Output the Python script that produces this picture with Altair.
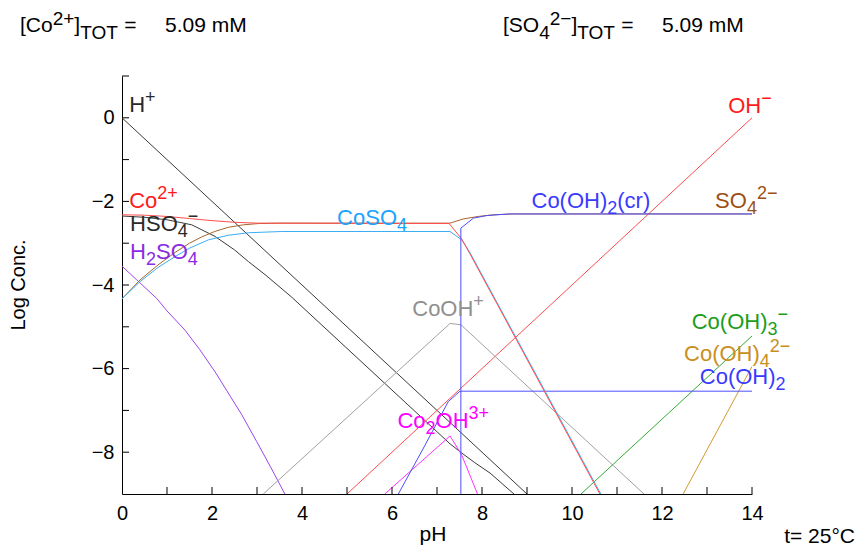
import altair as alt
import pandas as pd

FONT = "Liberation Sans"

# ---------------- data ----------------
h_ph = [0, 9]
h_log = [0, -9]

oh_ph = [5, 14]
oh_log = [-9, 0]

co_ph = [0, 0.5, 1.0, 1.5, 2.0, 2.5, 3.0, 7.27, 7.55, 7.73, 10.62]
co_log = [-2.32, -2.33, -2.36, -2.41, -2.46, -2.50, -2.52, -2.53, -2.90, -3.25, -9.0]

hso4_ph = [0, 0.5, 1.0, 1.55, 2.07, 2.5, 2.81, 3.2, 3.77, 7.29, 7.55, 7.84, 8.18, 8.71]
hso4_log = [-2.35, -2.38, -2.44, -2.56, -2.84, -3.16, -3.44, -3.77, -4.29, -7.80, -8.02, -8.25, -8.50, -9.0]

h2so4_ph = [0, 0.33, 0.77, 1.0, 1.4, 1.73, 2.07, 2.33, 2.66, 2.99, 3.3, 3.62]
h2so4_log = [-3.55, -3.88, -4.32, -4.62, -5.08, -5.55, -6.08, -6.53, -7.10, -7.74, -8.35, -9.0]

so4_ph = [0, 0.4, 0.8, 1.18, 1.5, 1.77, 2.06, 2.36, 2.7, 3.03, 3.5, 7.29, 7.58, 7.92, 8.25, 8.7, 14]
so4_log = [-4.33, -3.88, -3.52, -3.22, -3.0, -2.85, -2.72, -2.62, -2.56, -2.53, -2.52, -2.52, -2.42, -2.36, -2.32, -2.30, -2.30]

coso4_ph = [0, 0.4, 0.8, 1.18, 1.5, 1.92, 2.36, 2.81, 3.55, 7.29, 7.55, 7.73, 10.64]
coso4_log = [-4.33, -3.92, -3.58, -3.32, -3.12, -2.92, -2.81, -2.75, -2.72, -2.72, -2.92, -3.22, -9.0]

cooh2cr_ph = [7.53, 7.53, 7.81, 8.1, 8.6, 14]
cooh2cr_log = [-9.0, -2.64, -2.40, -2.34, -2.30, -2.30]

cooh2_ph = [6.14, 6.7, 7.25, 7.51, 14]
cooh2_log = [-9.0, -7.9, -6.79, -6.54, -6.54]

cooh_ph = [3.14, 7.29, 7.53, 11.6]
cooh_log = [-9.0, -4.92, -4.95, -9.0]

co2oh_ph = [5.84, 7.29, 7.55, 7.9]
co2oh_log = [-9.0, -7.61, -8.07, -9.0]

cooh3_ph = [10.2, 14]
cooh3_log = [-9.0, -5.22]

cooh4_ph = [12.47, 14]
cooh4_log = [-9.0, -5.95]

x_label_values = [0, 2, 4, 6, 8, 10, 12, 14]
y_label_values = [0, -2, -4, -6, -8]
x_minor = list(range(1, 15))
y_minor = list(range(-8, 2))

# ---------------- styling ----------------
C_RED = "#ff1a1a"
C_BLACK = "#2a2a2a"
C_PURPLE = "#8a2be2"
C_BROWN = "#9c4f12"
C_CYAN = "#1aa3ff"
C_BLUE = "#3a3aff"
C_GRAY = "#8f8f8f"
C_MAG = "#ff00ff"
C_GREEN = "#1a9e1a"
C_GOLD = "#c98f1c"

# line colours (thin lines look slightly lighter than the label text)
L_RED = "#ff4d4d"
L_BLACK = "#3a3a3a"
L_PURPLE = "#9a45f0"
L_BROWN = "#a8642c"
L_CYAN = "#3aaef5"
L_BLUE = "#4d4dff"
L_GRAY = "#a0a0a0"
L_MAG = "#ff33ff"
L_GREEN = "#33aa33"
L_GOLD = "#d29a30"

series = [
    ("H+", h_ph, h_log, L_BLACK),
    ("HSO4-", hso4_ph, hso4_log, L_BLACK),
    ("H2SO4", h2so4_ph, h2so4_log, L_PURPLE),
    ("OH-", oh_ph, oh_log, L_RED),
    ("CoOH+", cooh_ph, cooh_log, L_GRAY),
    ("Co2OH3+", co2oh_ph, co2oh_log, L_MAG),
    ("Co(OH)3-", cooh3_ph, cooh3_log, L_GREEN),
    ("Co(OH)4 2-", cooh4_ph, cooh4_log, L_GOLD),
    ("Co(OH)2", cooh2_ph, cooh2_log, L_BLUE),
    ("SO4 2-", so4_ph, so4_log, L_BROWN),
    ("CoSO4", coso4_ph, coso4_log, L_CYAN),
    ("Co2+", co_ph, co_log, L_RED),
    ("Co(OH)2(cr)", cooh2cr_ph, cooh2cr_log, L_BLUE),
]

rows = []
for k, (name, xs, ys, col) in enumerate(series):
    for i, (a, b) in enumerate(zip(xs, ys)):
        rows.append({"species": name, "pH": a, "logc": b, "i": i, "k": k})
df = pd.DataFrame(rows)

W, H = 630, 418
OX, OY = 122, 76  # page position of the plot area's top-left corner
xs_scale = alt.Scale(domain=[0, 14], nice=False, zero=False)
ys_scale = alt.Scale(domain=[-9, 1], nice=False, zero=False)

lines = alt.Chart(df).mark_line(strokeWidth=1, clip=True).encode(
    x=alt.X("pH:Q", scale=xs_scale,
            axis=alt.Axis(values=x_label_values, ticks=False, grid=False, title=None,
                          domainColor="black", domainWidth=1, labelFont=FONT,
                          labelFontSize=20, labelColor="black", labelPadding=9,
                          labelFlush=False)),
    y=alt.Y("logc:Q", scale=ys_scale,
            axis=alt.Axis(values=y_label_values, ticks=False, grid=False, title=None,
                          domainColor="black", domainWidth=1, labelFont=FONT,
                          labelFontSize=20, labelColor="black", labelPadding=8,
                          labelFlush=False)),
    color=alt.Color("species:N", scale=alt.Scale(domain=[s[0] for s in series],
                                                  range=[s[3] for s in series]),
                    legend=None),
    detail="k:N",
    order="i:Q",
)

xt = alt.Chart(pd.DataFrame({"v": x_minor})).mark_rule(color="black", strokeWidth=1).encode(
    x=alt.X("v:Q", scale=xs_scale), y=alt.value(H), y2=alt.value(H - 7))
yt = alt.Chart(pd.DataFrame({"v": y_minor})).mark_rule(color="black", strokeWidth=1).encode(
    y=alt.Y("v:Q", scale=ys_scale), x=alt.value(0), x2=alt.value(7))

# ---------------- text helpers ----------------
WID = {'C': .722, 'o': .556, '(': .333, ')': .333, 'O': .778, 'H': .722, 'S': .667,
       'c': .5, 'r': .333, '2': .556, '3': .556, '4': .556, '+': .584, '−': .584,
       '[': .278, ']': .278, 'T': .611, ' ': .278, '=': .584, '.': .278, '0': .556,
       '5': .556, '9': .556, 'm': .833, 'M': .833, 't': .278, '°': .4}


def twidth(s, fs):
    return sum(WID.get(ch, .556) for ch in s) * fs


def rich(parts, color, size, x=None, y=None, px=None, py=None, small=0.8,
         sub_dy=None, sup_dy=None):
    out = []
    off = 0.0
    for txt, kind in parts:
        if kind == "gap":
            off += txt
            continue
        if kind == "n":
            fs, dy = size, 0
        elif kind == "sub":
            fs = round(size * small)
            dy = sub_dy if sub_dy is not None else round(size * 0.28)
        else:
            fs = round(size * small)
            dy = sup_dy if sup_dy is not None else -round(size * 0.40)
        if px is None:
            ch = alt.Chart(pd.DataFrame({"x": [x], "y": [y], "t": [txt]})).mark_text(
                align="left", baseline="alphabetic", dx=off, dy=dy, font=FONT,
                fontSize=fs, color=color).encode(
                x=alt.X("x:Q", scale=xs_scale), y=alt.Y("y:Q", scale=ys_scale), text="t:N")
        else:
            ch = alt.Chart(pd.DataFrame({"t": [txt]})).mark_text(
                align="left", baseline="alphabetic", dx=off, dy=dy, font=FONT,
                fontSize=fs, color=color).encode(
                x=alt.value(px), y=alt.value(py), text="t:N")
        out.append(ch)
        off += twidth(txt, fs)
    return out


S = 22
labels = []
labels += rich([("H", "n"), ("+", "sup")], C_BLACK, S, 0.16, 0.14)
labels += rich([("OH", "n"), ("−", "sup")], C_RED, S, 13.47, 0.11)
labels += rich([("Co", "n"), ("2+", "sup")], C_RED, S, 0.16, -2.16)
labels += rich([("HSO", "n"), ("4", "sub"), ("−", "sup")], C_BLACK, S, 0.18, -2.70)
labels += rich([("H", "n"), ("2", "sub"), ("SO", "n"), ("4", "sub")], C_PURPLE, S, 0.18, -3.37)
labels += rich([("CoSO", "n"), ("4", "sub")], C_CYAN, S, 4.78, -2.56)
labels += rich([("Co(OH)", "n"), ("2", "sub"), ("(cr)", "n")], C_BLUE, S, 9.10, -2.15)
labels += rich([("SO", "n"), ("4", "sub"), ("2−", "sup")], C_BROWN, S, 13.18, -2.16)
labels += rich([("CoOH", "n"), ("+", "sup")], C_GRAY, S, 6.45, -4.74)
labels += rich([("Co(OH)", "n"), ("3", "sub"), ("−", "sup")], C_GREEN, S, 12.66, -5.06)
labels += rich([("Co(OH)", "n"), ("4", "sub"), ("2−", "sup")], C_GOLD, S, 12.49, -5.82)
labels += rich([("Co(OH)", "n"), ("2", "sub")], C_BLUE, S, 12.84, -6.37)
labels += rich([("Co", "n"), ("2", "sub"), ("OH", "n"), ("3+", "sup")], C_MAG, S, 6.12, -7.43)

# titles and annotations in page pixels, converted to plot-area pixels
T = 21
TB = 32
labels += rich([("[Co", "n"), ("2+", "sup"), ("]", "n"), ("TOT", "sub"), (6, "gap"), ("=", "n")],
               "black", T, px=20 - OX, py=TB - OY, small=0.92, sub_dy=7, sup_dy=-7)
labels += rich([("5.09 mM", "n")], "black", T, px=165 - OX, py=TB - OY)
labels += rich([("[SO", "n"), ("4", "sub"), ("2−", "sup"), ("]", "n"), ("TOT", "sub"), (6, "gap"),
                ("=", "n")],
               "black", T, px=503 - OX, py=TB - OY, small=0.92, sub_dy=7, sup_dy=-7)
labels += rich([("5.09 mM", "n")], "black", T, px=662 - OX, py=TB - OY)

t_note = alt.Chart(pd.DataFrame({"t": ["t= 25°C"]})).mark_text(
    align="right", baseline="alphabetic", font=FONT, fontSize=21, color="black").encode(
    x=alt.value(855 - OX), y=alt.value(543 - OY), text="t:N")
pH_title = alt.Chart(pd.DataFrame({"t": ["pH"]})).mark_text(
    align="center", baseline="alphabetic", font=FONT, fontSize=21, color="black").encode(
    x=alt.value(433 - OX), y=alt.value(541 - OY), text="t:N")
y_title = alt.Chart(pd.DataFrame({"t": ["Log Conc."]})).mark_text(
    align="center", baseline="alphabetic", angle=270, font=FONT, fontSize=20, color="black").encode(
    x=alt.value(25 - OX), y=alt.value(285 - OY), text="t:N")

chart = alt.layer(lines, xt, yt, pH_title, y_title, t_note, *labels).properties(
    width=W, height=H,
    autosize=alt.AutoSizeParams(type="none"),
    padding={"left": OX - 8, "top": OY - 8, "right": 848 - (OX - 8) - W,
             "bottom": 538 - (OY - 8) - H},
).configure_view(stroke=None)

chart.save("out.html", embed_options={"renderer": "svg", "actions": False})
